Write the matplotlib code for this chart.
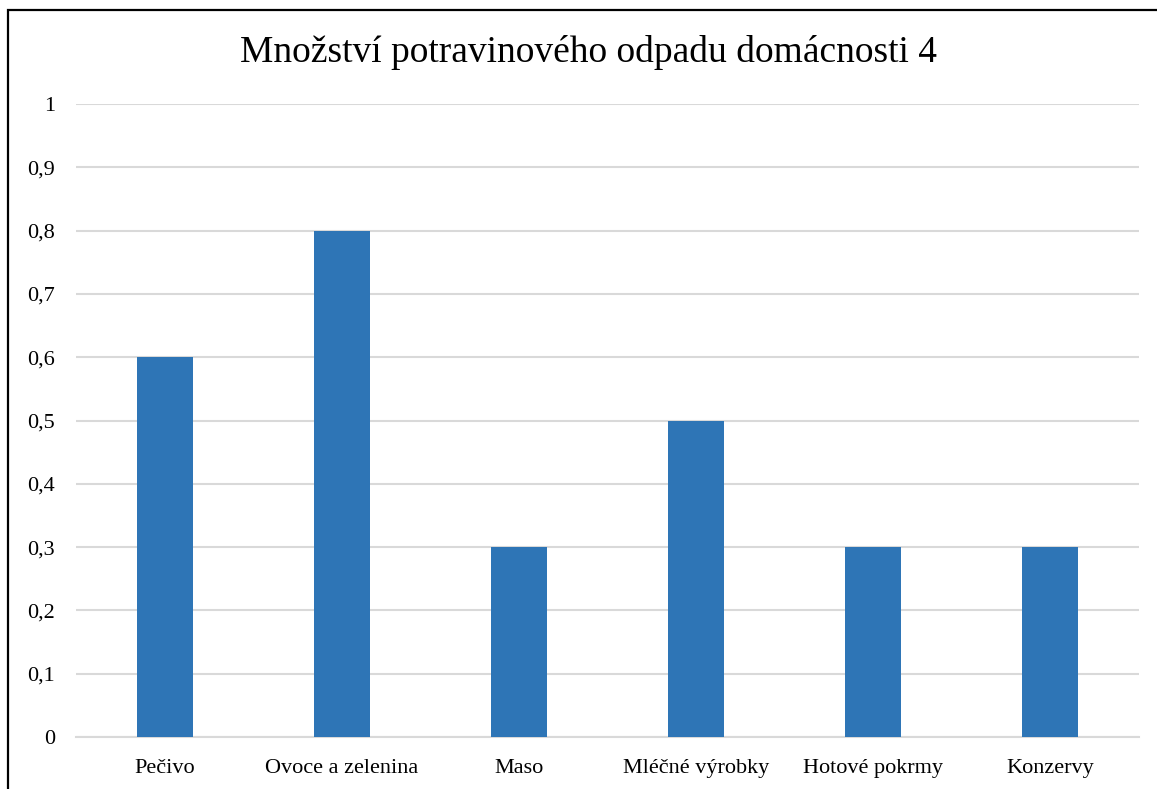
import matplotlib.pyplot as plt
from matplotlib.patches import Rectangle

# --- data ---
kategorie = ['Pečivo', 'Ovoce a zelenina', 'Maso', 'Mléčné výrobky', 'Hotové pokrmy', 'Konzervy']
hodnoty = [0.6, 0.8, 0.3, 0.5, 0.3, 0.3]
y_ticks = [0, 0.1, 0.2, 0.3, 0.4, 0.5, 0.6, 0.7, 0.8, 0.9, 1]
y_labels = ['0', '0,1', '0,2', '0,3', '0,4', '0,5', '0,6', '0,7', '0,8', '0,9', '1']

plt.rcParams['font.family'] = ['Liberation Serif', 'DejaVu Serif']

W, H = 1157, 789
fig = plt.figure(figsize=(W / 100, H / 100), dpi=100)

# outer chart border (cut off at right and bottom like the screenshot)
fig.patches.append(Rectangle((8 / W, -0.05), 1.2, 1 - 10 / H + 0.05,
                             transform=fig.transFigure, fill=False,
                             edgecolor='black', linewidth=1.6))

ax = fig.add_axes([76 / W, 1 - 737 / H, (1139 - 76) / W, (737 - 104) / H])
x = range(len(kategorie))
ax.bar(x, hodnoty, width=0.316, color='#2E75B6', zorder=3)

ax.set_xlim(-0.5, len(kategorie) - 0.5)
ax.set_ylim(0, 1)
ax.set_yticks(y_ticks)
ax.set_yticklabels(y_labels, fontsize=16)
ax.set_xticks(list(x))
ax.set_xticklabels(kategorie, fontsize=16)
ax.tick_params(axis='both', length=0)
ax.tick_params(axis='y', pad=15)
ax.tick_params(axis='x', pad=16)
ax.grid(axis='y', color='#D9D9D9', linewidth=1.5, zorder=0)
for s in ['top', 'right', 'left']:
    ax.spines[s].set_visible(False)
ax.spines['bottom'].set_color('#D9D9D9')
ax.spines['bottom'].set_linewidth(1.5)

fig.text(588 / W, 1 - 52 / H, 'Množství potravinového odpadu domácnosti 4',
         ha='center', va='center', fontsize=27)

fig.savefig('out.png', dpi=100)
